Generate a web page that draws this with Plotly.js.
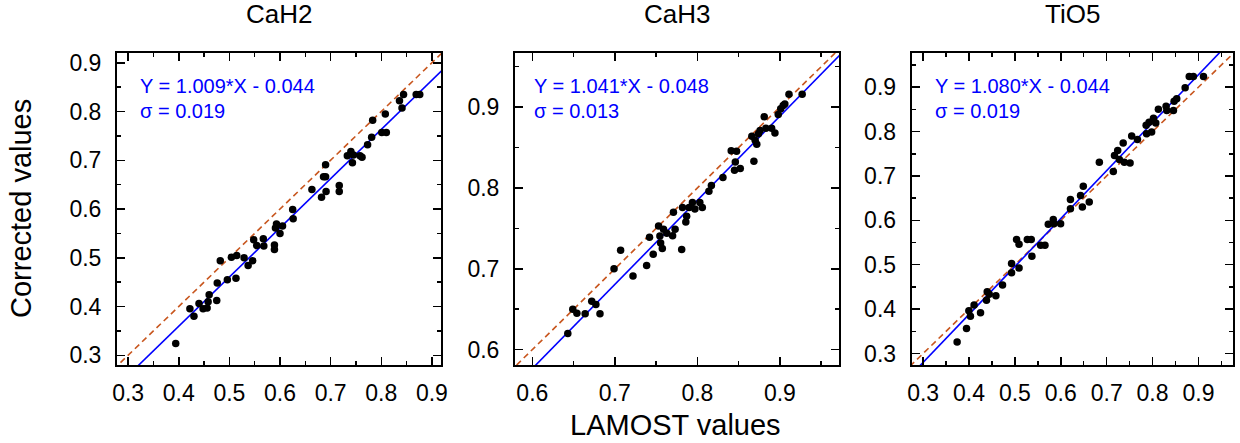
<!DOCTYPE html>
<html><head><meta charset="utf-8">
<script src="https://cdn.plot.ly/plotly-3.0.1.min.js"></script>
<style>html,body{margin:0;padding:0;background:#fff}#chart{width:1240px;height:443px}</style>
</head><body><div id="chart"></div><script>
const panelNames = ['CaH2', 'CaH3', 'TiO5'];
const slopes = [1.009, 1.041, 1.080];
const intercepts = [-0.044, -0.048, -0.044];
const sigmas = [0.019, 0.013, 0.019];

const cah2X = [0.394,0.422,0.430,0.440,0.448,0.456,0.458,0.460,0.475,0.476,0.482,0.496,0.504,0.513,0.5145,0.529,0.537,0.546,0.548,0.554,0.567,0.568,0.589,0.589,0.591,0.593,0.600,0.605,0.625,0.626,0.663,0.682,0.686,0.690,0.690,0.691,0.717,0.717,0.733,0.740,0.743,0.745,0.758,0.762,0.773,0.781,0.783,0.801,0.810,0.808,0.836,0.841,0.844,0.869,0.876];
const cah2Y = [0.324,0.3955,0.380,0.406,0.3955,0.397,0.410,0.424,0.4125,0.448,0.494,0.455,0.501,0.458,0.5046,0.500,0.484,0.494,0.537,0.525,0.539,0.524,0.526,0.517,0.561,0.569,0.550,0.565,0.599,0.580,0.640,0.624,0.666,0.666,0.691,0.636,0.648,0.636,0.709,0.718,0.695,0.711,0.709,0.706,0.732,0.747,0.782,0.757,0.757,0.795,0.822,0.807,0.835,0.835,0.835];

const cah3X = [0.643,0.649,0.654,0.664,0.672,0.677,0.682,0.699,0.707,0.722,0.7385,0.742,0.7465,0.753,0.7546,0.7555,0.7575,0.759,0.763,0.770,0.771,0.773,0.781,0.782,0.786,0.787,0.790,0.794,0.797,0.803,0.806,0.814,0.817,0.831,0.841,0.845,0.846,0.8475,0.852,0.866,0.8685,0.870,0.872,0.874,0.876,0.881,0.883,0.890,0.894,0.898,0.901,0.904,0.906,0.911,0.927];
const cah3Y = [0.620,0.650,0.645,0.6445,0.660,0.656,0.6445,0.700,0.723,0.691,0.704,0.739,0.718,0.753,0.7405,0.732,0.725,0.749,0.744,0.741,0.770,0.749,0.724,0.776,0.758,0.765,0.776,0.782,0.774,0.782,0.776,0.796,0.803,0.813,0.846,0.822,0.832,0.8456,0.824,0.864,0.833,0.859,0.854,0.867,0.871,0.888,0.874,0.874,0.868,0.891,0.898,0.902,0.904,0.916,0.916];

const tio5X = [0.374,0.3945,0.3996,0.403,0.411,0.425,0.438,0.4396,0.444,0.4585,0.473,0.4927,0.4927,0.509,0.5036,0.509,0.527,0.5356,0.537,0.556,0.5655,0.5727,0.5836,0.585,0.5996,0.621,0.621,0.643,0.647,0.649,0.662,0.684,0.7145,0.717,0.724,0.7276,0.736,0.7385,0.751,0.7545,0.767,0.786,0.787,0.7924,0.798,0.802,0.807,0.8127,0.8295,0.831,0.8455,0.847,0.8527,0.871,0.880,0.889,0.911];
const tio5Y = [0.326,0.356,0.396,0.384,0.409,0.3915,0.420,0.439,0.4335,0.430,0.454,0.482,0.5025,0.4928,0.5565,0.546,0.557,0.557,0.519,0.544,0.544,0.591,0.602,0.5925,0.5925,0.626,0.647,0.656,0.630,0.677,0.641,0.731,0.710,0.746,0.7575,0.737,0.774,0.731,0.729,0.790,0.782,0.814,0.795,0.821,0.799,0.830,0.819,0.850,0.857,0.8475,0.8475,0.8685,0.874,0.8985,0.924,0.924,0.924];

const xsAll = [cah2X, cah3X, tio5X];
const ysAll = [cah2Y, cah3Y, tio5Y];

const FONT = 'Liberation Sans, Arial, Helvetica, sans-serif';
const xRanges = [[0.278, 0.918], [0.579, 0.972], [0.275, 0.976]];
const yRanges = [[0.28, 0.92], [0.581, 0.967], [0.274, 0.977]];
const xDomains = [[117/1240, 441/1240], [515/1240, 839.3/1240], [911.7/1240, 1233.3/1240]];
const yDomain = [1 - 365/443, 1 - 53/443];
const textOffsets = [0.065, 0.052, 0.065];

const traces = [];
const layout = {
  width: 1240, height: 443,
  margin: {l: 0, r: 0, t: 0, b: 0},
  paper_bgcolor: '#fff', plot_bgcolor: '#fff',
  showlegend: false,
  font: {family: FONT, color: '#000'},
  annotations: []
};

for (let i = 0; i < 3; i++) {
  const sfx = i === 0 ? '' : String(i + 1);
  const xa = 'x' + sfx, ya = 'y' + sfx;
  const lo = Math.min(xRanges[i][0], yRanges[i][0]) - 0.05;
  const hi = Math.max(xRanges[i][1], yRanges[i][1]) + 0.05;
  traces.push({x: [lo, hi], y: [lo, hi], xaxis: xa, yaxis: ya, mode: 'lines',
    line: {color: '#c8561e', width: 1.6, dash: '6px,4px'}, hoverinfo: 'skip'});
  traces.push({x: [lo, hi], y: [slopes[i]*lo + intercepts[i], slopes[i]*hi + intercepts[i]],
    xaxis: xa, yaxis: ya, mode: 'lines', line: {color: '#0000ff', width: 1.6}, hoverinfo: 'skip'});
  traces.push({x: xsAll[i], y: ysAll[i], xaxis: xa, yaxis: ya, mode: 'markers',
    marker: {color: '#000', size: 7.5}, cliponaxis: true});

  const common = {
    showgrid: false, zeroline: false, showline: true, linecolor: '#000', linewidth: 2,
    mirror: 'allticks', ticks: 'inside', ticklen: 8, tickwidth: 1.5, tickcolor: '#000',
    dtick: 0.1, tick0: 0, tickformat: '.1f', automargin: false,
    tickfont: {family: FONT, size: 23, color: '#000'},
    minor: {dtick: 0.05, ticks: 'inside', ticklen: 4, tickwidth: 1.5, tickcolor: '#000', showgrid: false}
  };
  layout['xaxis' + sfx] = Object.assign({}, common, {domain: xDomains[i], range: xRanges[i],
    anchor: ya, ticklabelstandoff: 6});
  layout['yaxis' + sfx] = Object.assign({}, common, {domain: yDomain, range: yRanges[i],
    anchor: xa, ticklabelstandoff: 9});

  layout.annotations.push({xref: xa + ' domain', yref: ya + ' domain', x: textOffsets[i], y: 0.894,
    xanchor: 'left', yanchor: 'middle', showarrow: false,
    text: 'Y = ' + slopes[i].toFixed(3) + '*X - ' + Math.abs(intercepts[i]).toFixed(3),
    font: {family: FONT, size: 20, color: '#0000ff'}});
  layout.annotations.push({xref: xa + ' domain', yref: ya + ' domain', x: textOffsets[i], y: 0.814,
    xanchor: 'left', yanchor: 'middle', showarrow: false,
    text: 'σ = ' + sigmas[i].toFixed(3),
    font: {family: FONT, size: 20, color: '#0000ff'}});
  layout.annotations.push({xref: 'paper', yref: 'paper',
    x: (xDomains[i][0] + xDomains[i][1]) / 2, y: 1 - 14/443,
    xanchor: 'center', yanchor: 'middle', showarrow: false,
    text: panelNames[i], font: {family: FONT, size: 26, color: '#000'}});
}
layout.annotations.push({xref: 'paper', yref: 'paper', x: 675/1240, y: 1 - 425/443,
  xanchor: 'center', yanchor: 'middle', showarrow: false,
  text: 'LAMOST values', font: {family: FONT, size: 29, color: '#000'}});
layout.annotations.push({xref: 'paper', yref: 'paper', x: 21/1240, y: 1 - 209/443,
  xanchor: 'center', yanchor: 'middle', showarrow: false, textangle: -90,
  text: 'Corrected values', font: {family: FONT, size: 29, color: '#000'}});

Plotly.newPlot('chart', traces, layout, {staticPlot: true, displayModeBar: false});
</script></body></html>
